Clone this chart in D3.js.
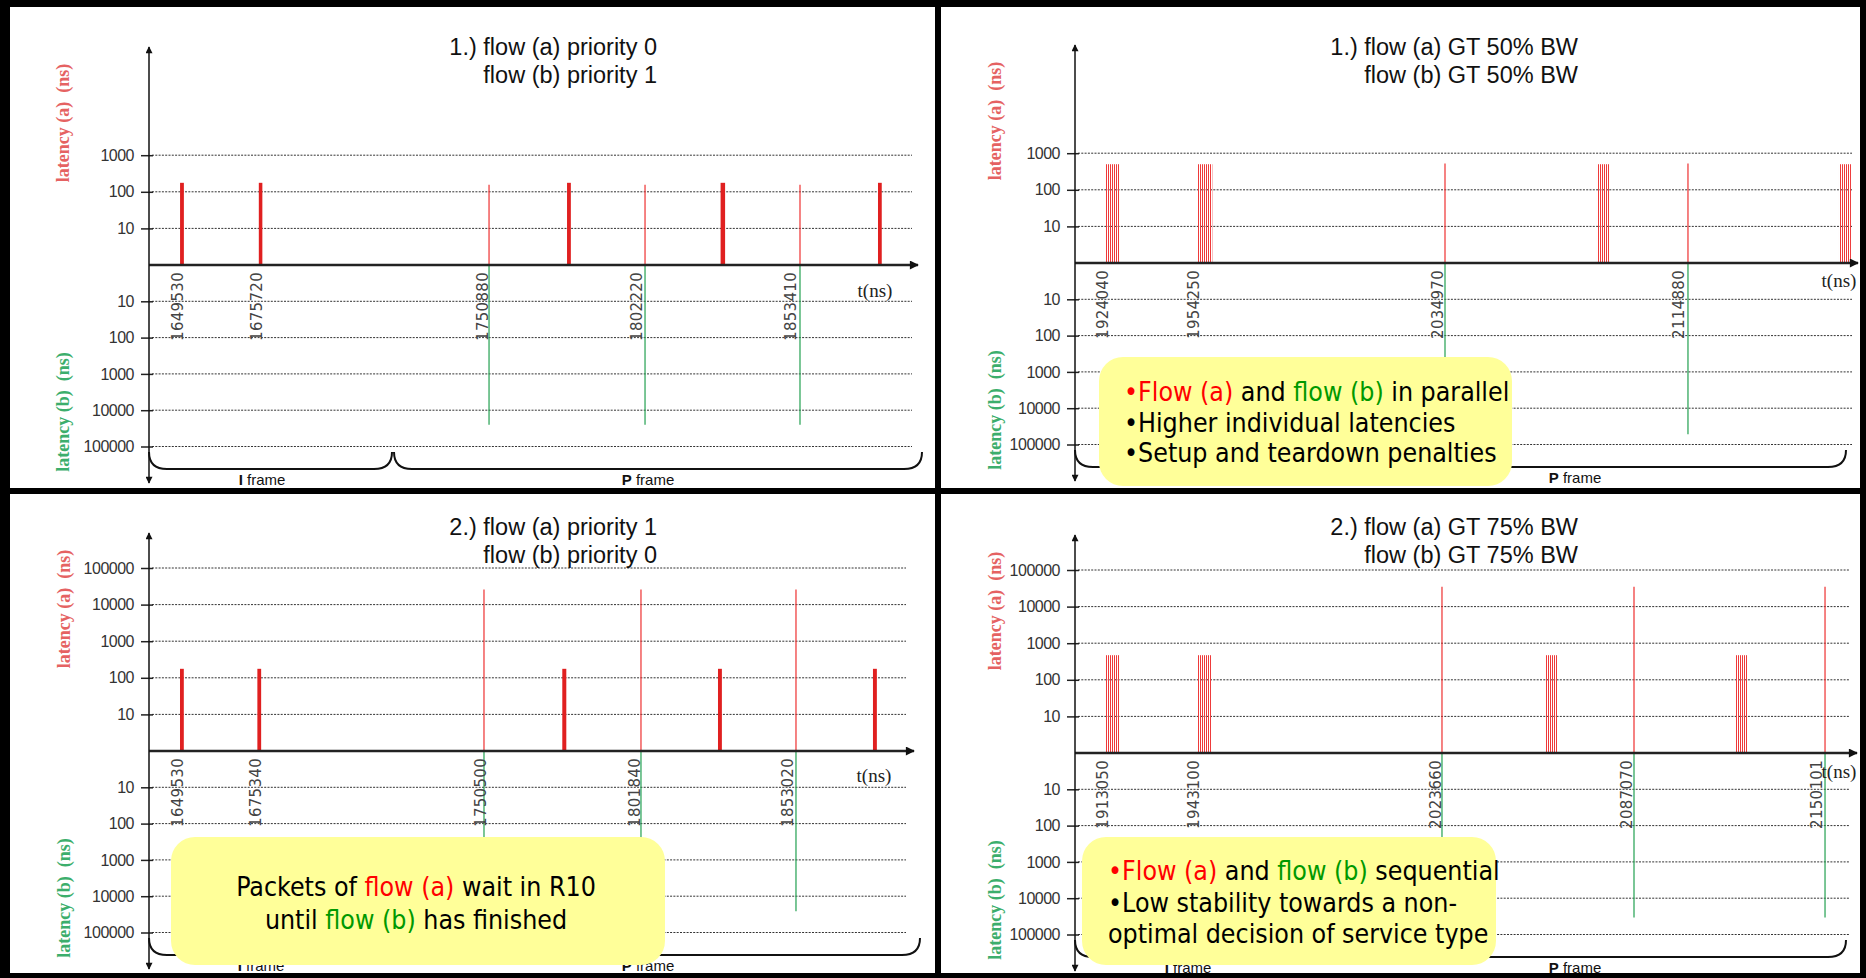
<!DOCTYPE html>
<html>
<head>
<meta charset="utf-8">
<script src="https://cdn.jsdelivr.net/npm/d3@7"></script>
<style>
body{margin:0;background:#000;}
svg{display:block;}
text{white-space:pre;}
</style>
</head>
<body>
<script>
// ---- data (times in ns, latencies in ns) ----
var upTicksTop=[10,100,1000];
var upTicksFull=[10,100,1000,10000,100000];
var downTicks=[10,100,1000,10000,100000];

// 1.) priority 0 / 1
var tlTitle=["1.) flow (a) priority 0","flow (b) priority 1"];
var tlTicks=[1649530,1675720,1750880,1802220,1853410];
var tlDomain=[1639200,1892960];
var tlBurstA=[[1649530,1650800,176],[1675720,1676900,176],[1778230,1779500,176],[1829300,1830800,176],[1881650,1882900,176]];
var tlSingleA=[[1752290,155],[1804170,155],[1855710,155]];
var tlFlowB=[[1752290,25000],[1804170,25000],[1855710,25000]];

// 1.) GT 50% BW
var trTitle=["1.) flow (a) GT 50% BW","flow (b) GT 50% BW"];
var trTicks=[1924040,1954250,2034970,2114880];
var trDomain=[1914100,2171560];
var trBurstA=[[1924040,1928680,500],[1954600,1959600,500],[2087060,2091040,500],[2167250,2171220,500]];
var trSingleA=[[2036700,520],[2117210,520]];
var trFlowB=[[2036700,52000],[2117210,52000]];
var trNote=[[["a","•Flow (a)"],[""," and "],["b","flow (b)"],[""," in parallel"]],[["","•Higher individual latencies"]],[["","•Setup and teardown penalties"]]];

// 2.) priority 1 / 0
var blTitle=["2.) flow (a) priority 1","flow (b) priority 0"];
var blTicks=[1649530,1675340,1750500,1801840,1853020];
var blDomain=[1639190,1891720];
var blBurstA=[[1649530,1650800,176],[1675340,1676600,176],[1777060,1778400,176],[1829000,1830300,176],[1880700,1882000,176]];
var blSingleA=[[1750940,26000],[1803310,26000],[1855020,26000]];
var blFlowB=[[1750940,26000],[1803310,26000],[1855020,26000]];
var blNote=[[["","Packets of "],["a","flow (a)"],[""," wait in R10"]],[["","until "],["b","flow (b)"],[""," has finished"]]];

// 2.) GT 75% BW
var brTitle=["2.) flow (a) GT 75% BW","flow (b) GT 75% BW"];
var brTicks=[1913050,1943100,2023660,2087070,2150101];
var brDomain=[1903090,2160060];
var brBurstA=[[1913050,1917700,470],[1943600,1948240,470],[2059130,2063110,470],[2122210,2126200,470]];
var brSingleA=[[2024930,35000],[2088680,35000],[2152100,35000]];
var brFlowB=[[2024930,34000],[2088680,34000],[2152100,34000]];
var brNote=[[["a","•Flow (a)"],[""," and "],["b","flow (b)"],[""," sequential"]],[["","•Low stability towards a non-"]],[["","optimal decision of service type"]]];

var RED="#e02020", GRN="#22a050";
var segColor={"a":"#ff0000","b":"#009900","":"#000"};

var svg=d3.select("body").append("svg").attr("width",1866).attr("height",978);
svg.append("rect").attr("width",1866).attr("height",978).attr("fill","#000");

var defs=svg.append("defs");
defs.append("marker").attr("id","arrX").attr("markerUnits","userSpaceOnUse")
  .attr("viewBox","0 0 10 10").attr("refX",9).attr("refY",5)
  .attr("markerWidth",11).attr("markerHeight",9).attr("orient","auto-start-reverse")
  .append("path").attr("d","M0,0L10,5L0,10z").attr("fill","#111");
defs.append("marker").attr("id","arrY").attr("markerUnits","userSpaceOnUse")
  .attr("viewBox","0 0 10 10").attr("refX",9).attr("refY",5)
  .attr("markerWidth",10).attr("markerHeight",7).attr("orient","auto-start-reverse")
  .append("path").attr("d","M0,0L10,5L0,10z").attr("fill","#111");
defs.append("pattern").attr("id","stripes").attr("patternUnits","userSpaceOnUse")
  .attr("width",2).attr("height",10)
  .append("rect").attr("width",1).attr("height",10).attr("fill","#ee3a3a");

var panels=[
 {title:tlTitle,ticks:tlTicks,domain:tlDomain,bursts:tlBurstA,singles:tlSingleA,flowB:tlFlowB,up:upTicksTop,solid:true,note:null,
  L:{bx:10,by:7,bw:925,bh:481,ax:149,ay:265,gx:912,arrowX:918,tLab:[875,297],titleX:657,titleY:55,yLabX:63,braceMid:392,braceEnd:922,iLab:262,pLab:648}},
 {title:trTitle,ticks:trTicks,domain:trDomain,bursts:trBurstA,singles:trSingleA,flowB:trFlowB,up:upTicksTop,solid:false,note:trNote,
  L:{bx:941,by:7,bw:919,bh:481,ax:1075,ay:263,gx:1852,arrowX:1858,tLab:[1839,287],titleX:1578,titleY:55,yLabX:995,braceMid:1317,braceEnd:1846,iLab:1188,pLab:1575,
     box:{x:1099,y:357,w:413,h:129,tx:1124,ty:[401,432,462],anchor:"start"}}},
 {title:blTitle,ticks:blTicks,domain:blDomain,bursts:blBurstA,singles:blSingleA,flowB:blFlowB,up:upTicksFull,solid:true,note:blNote,
  L:{bx:10,by:494,bw:925,bh:479,ax:149,ay:751,gx:906,arrowX:914,tLab:[874,782],titleX:657,titleY:535,yLabX:64,braceMid:392,braceEnd:920,iLab:261,pLab:648,
     box:{x:171,y:837,w:494,h:128,tx:416,ty:[896,929],anchor:"middle"}}},
 {title:brTitle,ticks:brTicks,domain:brDomain,bursts:brBurstA,singles:brSingleA,flowB:brFlowB,up:upTicksFull,solid:false,note:brNote,
  L:{bx:941,by:494,bw:919,bh:479,ax:1075,ay:753,gx:1849,arrowX:1857,tLab:[1839,778],titleX:1578,titleY:535,yLabX:995,braceMid:1317,braceEnd:1846,iLab:1188,pLab:1575,
     box:{x:1082,y:837,w:414,h:128,tx:1108,ty:[880,912,943],anchor:"start"}}}
];

panels.forEach(drawPanel);

function drawPanel(p){
  var L=p.L;
  var g=svg.append("g");
  g.append("rect").attr("x",L.bx).attr("y",L.by).attr("width",L.bw).attr("height",L.bh).attr("fill","#fff");

  var x=d3.scaleLinear().domain(p.domain).range([L.ax,L.gx]);
  var yUp=d3.scaleLog().domain([1,1e5]).range([L.ay,L.ay-5*36.6]);
  var yDn=d3.scaleLog().domain([1,1e5]).range([L.ay,L.ay+5*36.3]);

  // dotted grid
  function grid(vals,sc){
    g.append("g").selectAll("line").data(vals).enter().append("line")
      .attr("x1",L.ax+3).attr("x2",L.gx)
      .attr("y1",function(d){return sc(d);}).attr("y2",function(d){return sc(d);})
      .attr("stroke","#333").attr("stroke-width",1).attr("stroke-dasharray","2,1.3");
  }
  grid(p.up,yUp);
  grid(downTicks,yDn);

  // y tick labels
  function yaxis(vals,sc){
    var a=g.append("g").attr("transform","translate("+L.ax+",0)")
      .call(d3.axisLeft(sc).tickValues(vals).tickFormat(d3.format("d")).tickSize(8).tickPadding(7));
    a.select(".domain").remove();
    a.selectAll(".tick line").attr("x1",4).attr("stroke","#222").attr("stroke-width",1.5);
    a.selectAll(".tick text").attr("fill","#333").style("font-family","Liberation Sans, Arial, sans-serif")
      .style("font-size","16px").style("letter-spacing","-0.5px");
  }
  yaxis(p.up,yUp);
  yaxis(downTicks,yDn);

  // flow (a) bursts
  g.append("g").selectAll("rect").data(p.bursts).enter().append("rect")
    .attr("x",function(d){return x(d[0]);})
    .attr("width",function(d){return Math.max(x(d[1])-x(d[0]),2);})
    .attr("y",function(d){return yUp(d[2]);})
    .attr("height",function(d){return L.ay-yUp(d[2]);})
    .attr("fill",p.solid?RED:"url(#stripes)");

  // flow (a) single packets
  g.append("g").selectAll("line").data(p.singles).enter().append("line")
    .attr("x1",function(d){return x(d[0]);}).attr("x2",function(d){return x(d[0]);})
    .attr("y1",L.ay).attr("y2",function(d){return yUp(d[1]);})
    .attr("stroke","#ee3030").attr("stroke-width",1.2);

  // flow (b) packets
  g.append("g").selectAll("line").data(p.flowB).enter().append("line")
    .attr("x1",function(d){return x(d[0]);}).attr("x2",function(d){return x(d[0]);})
    .attr("y1",L.ay).attr("y2",function(d){return yDn(d[1]);})
    .attr("stroke",GRN).attr("stroke-width",1.2);

  // axes
  g.append("line").attr("x1",L.ax).attr("x2",L.arrowX).attr("y1",L.ay).attr("y2",L.ay)
    .attr("stroke","#222").attr("stroke-width",2.5).attr("marker-end","url(#arrX)");
  g.append("line").attr("x1",L.ax).attr("x2",L.ax).attr("y1",L.ay+218).attr("y2",L.ay-218)
    .attr("stroke","#111").attr("stroke-width",1.5)
    .attr("marker-end","url(#arrY)").attr("marker-start","url(#arrY)");

  // rotated time labels
  g.append("g").selectAll("text").data(p.ticks).enter().append("text")
    .attr("transform",function(d){return "translate("+(x(d)-2)+","+(L.ay+7)+") rotate(-90)";})
    .attr("text-anchor","end").attr("dy","0.35em")
    .attr("fill","#444").style("font-family","DejaVu Sans, Verdana, sans-serif").style("font-size","15px")
    .style("letter-spacing","0.3px")
    .text(function(d){return d;});

  g.append("text").attr("x",L.tLab[0]).attr("y",L.tLab[1]).attr("text-anchor","middle")
    .style("font-family","Liberation Serif, Times New Roman, serif").style("font-size","19px").attr("fill","#222")
    .text("t(ns)");

  // axis titles
  g.append("text").attr("transform","translate("+L.yLabX+","+(L.ay-142)+") rotate(-90)")
    .attr("text-anchor","middle").attr("dy","0.35em")
    .style("font-family","Liberation Serif, Times New Roman, serif").style("font-size","18px").style("font-weight","bold")
    .attr("fill","#e56262").text("latency (a)  (ns)");
  g.append("text").attr("transform","translate("+L.yLabX+","+(L.ay+147)+") rotate(-90)")
    .attr("text-anchor","middle").attr("dy","0.35em")
    .style("font-family","Liberation Serif, Times New Roman, serif").style("font-size","18px").style("font-weight","bold")
    .attr("fill","#3cae6c").text("latency (b)  (ns)");

  // frame braces
  var y0=L.ay+187, y1=L.ay+204, r=18;
  function brace(xa,xb){
    g.append("path").attr("d","M"+xa+","+y0+" Q"+xa+","+y1+" "+(xa+r)+","+y1+" L"+(xb-r)+","+y1+" Q"+xb+","+y1+" "+xb+","+y0)
      .attr("fill","none").attr("stroke","#111").attr("stroke-width",2);
  }
  brace(L.ax,L.braceMid);
  brace(L.braceMid+2,L.braceEnd);
  function frameLabel(cx,letter){
    var t=g.append("text").attr("x",cx).attr("y",L.ay+220).attr("text-anchor","middle")
      .style("font-family","Liberation Sans, Arial, sans-serif").style("font-size","15px").attr("fill","#111");
    t.append("tspan").style("font-weight","bold").text(letter);
    t.append("tspan").text(" frame");
  }
  frameLabel(L.iLab,"I");
  frameLabel(L.pLab,"P");

  // title
  g.append("g").selectAll("text").data(p.title).enter().append("text")
    .attr("x",L.titleX).attr("y",function(d,i){return L.titleY+i*28;}).attr("text-anchor","end")
    .style("font-family","Liberation Sans, Arial, sans-serif").style("font-size","23.5px").attr("fill","#111")
    .text(function(d){return d;});

  // call-out box
  if(p.note){
    var b=L.box;
    g.append("rect").attr("x",b.x).attr("y",b.y).attr("width",b.w).attr("height",b.h)
      .attr("rx",24).attr("ry",24).attr("fill","#ffff99");
    p.note.forEach(function(line,i){
      var t=g.append("text").attr("x",b.tx).attr("y",b.ty[i]).attr("text-anchor",b.anchor)
        .style("font-family","DejaVu Sans Condensed, DejaVu Sans, Tahoma, sans-serif")
        .style("font-stretch","condensed").style("font-size","26.5px");
      line.forEach(function(s){
        t.append("tspan").attr("fill",segColor[s[0]]).text(s[1]);
      });
    });
  }
}
</script>
</body>
</html>
